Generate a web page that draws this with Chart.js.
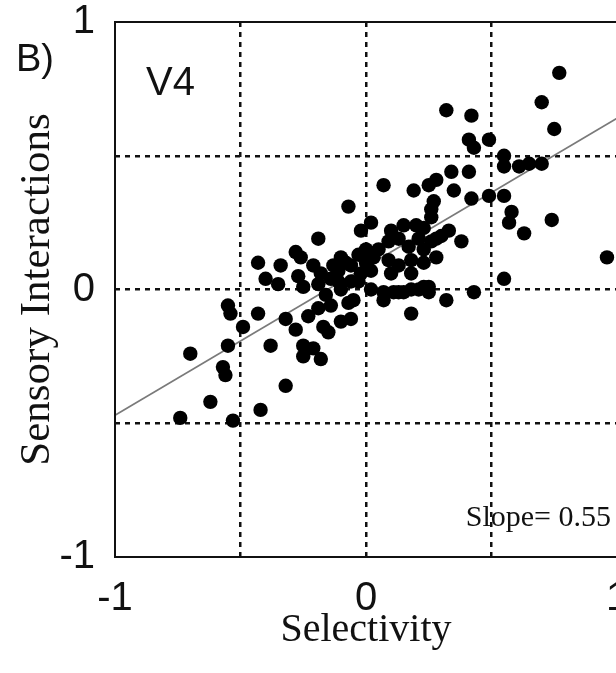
<!DOCTYPE html>
<html>
<head>
<meta charset="utf-8">
<script src="https://cdn.jsdelivr.net/npm/chart.js@4/dist/chart.umd.min.js"></script>
<style>
  html, body { margin: 0; padding: 0; overflow: hidden; background: #fff; }
  #wrap { position: absolute; left: 0; top: 0; width: 660px; height: 673px; }
</style>
</head>
<body>
<div id="wrap"><canvas id="myChart"></canvas></div>
<script>
// selectivity (x) and sensory interaction (y) per cell
const selX = [0.77, 0.70, 0.75, 0.55, 0.55, 0.61, 0.65, 0.70, 0.55, 0.58, 0.57, 0.63, 0.74, 0.96, 0.55,
  0.32, 0.42, 0.41, 0.43, 0.49, 0.34, 0.41, 0.28, 0.25, 0.35, 0.27, 0.26, 0.42, 0.49, 0.33,
  0.38, 0.23, 0.23, 0.28, 0.28, 0.25, 0.32, 0.43, 0.07, 0.19, -0.07, -0.19, -0.02, 0.02, 0.10,
  0.15, 0.20, 0.26, 0.05, 0.09, 0.13, 0.17, 0.21, 0.26, 0.30, 0.09, 0.13, 0.18, 0.23, 0.10,
  0.18, -0.10, -0.11, -0.06, -0.02, 0.02, -0.14, -0.06, -0.10, 0.02, 0.07, 0.13, 0.18, 0.23, 0.07,
  0.18, -0.05, -0.43, -0.34, -0.28, -0.26, -0.40, -0.35, -0.27, -0.25, -0.18, -0.13, -0.19, -0.11, -0.03,
  -0.43, -0.32, -0.28, -0.23, -0.19, -0.14, -0.07, -0.17, -0.10, -0.06, -0.15, -0.38, -0.25, -0.21, -0.18,
  -0.25, -0.55, -0.54, -0.49, -0.55, -0.70, -0.57, -0.56, -0.32, -0.62, -0.42, -0.74, -0.53, -0.21, -0.16,
  -0.08, 0.11, 0.15, 0.21, 0.25, 0.00, 0.03, -0.03, 0.00];
const senY = [0.81, 0.70, 0.60, 0.50, 0.46, 0.46, 0.47, 0.47, 0.35, 0.29, 0.25, 0.21, 0.26, 0.12, 0.04,
  0.67, 0.65, 0.56, 0.53, 0.56, 0.44, 0.44, 0.41, 0.39, 0.37, 0.33, 0.30, 0.34, 0.35, 0.22,
  0.18, 0.23, 0.15, 0.19, 0.12, 0.01, -0.04, -0.01, 0.39, 0.37, 0.31, 0.19, 0.22, 0.25, 0.22,
  0.24, 0.24, 0.27, 0.15, 0.18, 0.19, 0.16, 0.19, 0.18, 0.20, 0.11, 0.09, 0.11, 0.10, 0.06,
  0.06, 0.12, 0.07, 0.09, 0.06, 0.07, 0.04, 0.03, 0.00, 0.00, -0.01, -0.01, 0.00, 0.01, -0.04,
  -0.09, -0.04, 0.10, 0.09, 0.14, 0.12, 0.04, 0.02, 0.05, 0.01, 0.06, 0.09, 0.02, 0.03, 0.03,
  -0.09, -0.11, -0.15, -0.10, -0.07, -0.06, -0.05, -0.14, -0.12, -0.11, -0.16, -0.21, -0.21, -0.22, -0.26,
  -0.25, -0.06, -0.09, -0.14, -0.21, -0.24, -0.29, -0.32, -0.36, -0.42, -0.45, -0.48, -0.49, 0.09, -0.02,
  0.10, -0.01, -0.01, 0.00, -0.01, 0.15, 0.12, 0.13, 0.10];

// regression line ends (slope 0.55)
const fitX = [-1, 1];
const fitY = [-0.47, 0.64];

const tickVals = [-1, -0.5, 0, 0.5, 1];
const tickShown = [-1, 0, 1];

const points = selX.map((x, i) => ({ x: x, y: senY[i] }));
const fitLine = fitX.map((x, i) => ({ x: x, y: fitY[i] }));

const gridColor = (ctx) => (ctx.tick && Math.abs(ctx.tick.value) === 1) ? 'rgba(0,0,0,0)' : '#111';
const tickLabel = (v) => tickShown.includes(v) ? String(v) : '';

// frame + panel texts
const extras = {
  id: 'extras',
  afterDraw(chart) {
    const c = chart.ctx, a = chart.chartArea;
    c.save();
    c.strokeStyle = '#111';
    c.lineWidth = 2;
    c.strokeRect(a.left, a.top, a.right - a.left, a.bottom - a.top);
    c.fillStyle = '#111';
    c.textBaseline = 'alphabetic';
    c.font = '38px "Liberation Sans", Arial, sans-serif';
    c.textAlign = 'left';
    c.fillText('B)', 16, 71);
    c.font = '40px "Liberation Sans", Arial, sans-serif';
    c.fillText('V4', 146, 95);
    c.font = '30px "Liberation Serif", "Times New Roman", serif';
    c.textAlign = 'right';
    c.fillText('Slope= 0.55', 611, 526);
    c.restore();
  }
};

const ctx = document.getElementById('myChart').getContext('2d');
const chart = new Chart(ctx, {
  type: 'scatter',
  data: {
    datasets: [{
      label: 'cells',
      data: points,
      backgroundColor: '#000',
      borderWidth: 0,
      pointRadius: 7.2,
      pointHoverRadius: 7.2
    }, {
      type: 'line',
      label: 'fit',
      data: fitLine,
      borderColor: '#7a7a7a',
      borderWidth: 1.6,
      pointRadius: 0,
      fill: false
    }]
  },
  options: {
    responsive: true,
    maintainAspectRatio: false,
    animation: false,
    layout: { autoPadding: false, padding: { left: 0, top: 22, right: 43, bottom: 0 } },
    plugins: { legend: { display: false }, tooltip: { enabled: false } },
    scales: {
      x: {
        type: 'linear',
        min: -1, max: 1,
        afterBuildTicks: (s) => { s.ticks = tickVals.map(v => ({ value: v })); },
        afterFit: (s) => { s.height = 116; s.paddingLeft = 0; s.paddingRight = 0; },
        grid: { color: gridColor, lineWidth: 2.5, drawTicks: false },
        border: { display: false, dash: [5, 5] },
        ticks: {
          padding: 18,
          color: '#111',
          font: { family: '"Liberation Sans", Arial, sans-serif', size: 40 },
          callback: tickLabel,
          maxRotation: 0
        },
        title: {
          display: true,
          text: 'Selectivity',
          color: '#111',
          font: { family: '"Liberation Serif", "Times New Roman", serif', size: 40 },
          padding: { top: 0, bottom: 19 }
        }
      },
      y: {
        type: 'linear',
        min: -1, max: 1,
        afterBuildTicks: (s) => { s.ticks = tickVals.map(v => ({ value: v })); },
        afterFit: (s) => { s.width = 115; s.paddingTop = 0; s.paddingBottom = 0; },
        grid: { color: gridColor, lineWidth: 2.5, drawTicks: false },
        border: { display: false, dash: [5, 5] },
        ticks: {
          padding: 20,
          color: '#111',
          font: { family: '"Liberation Sans", Arial, sans-serif', size: 40 },
          callback: tickLabel
        },
        title: {
          display: true,
          text: 'Sensory Interactions',
          color: '#111',
          font: { family: '"Liberation Serif", "Times New Roman", serif', size: 43 },
          padding: { top: 12, bottom: 0 }
        }
      }
    }
  },
  plugins: [extras]
});
</script>
</body>
</html>
